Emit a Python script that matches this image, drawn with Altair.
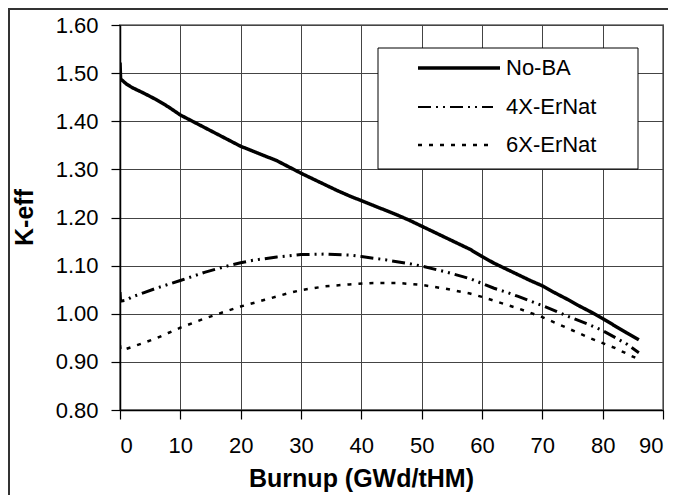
import altair as alt
import pandas as pd

series_names = ["No-BA", "4X-ErNat", "6X-ErNat"]

noba_x = [0, 0.1, 1, 2, 4, 6, 8, 10, 12, 14, 16, 18, 20, 22, 24, 26, 28, 30, 32, 34, 36, 38, 40,
          42, 44, 46, 48, 50, 52, 54, 56, 58, 60, 62, 64, 66, 68, 70, 72, 74, 76, 78, 80, 82, 84, 86]
noba_y = [1.522, 1.488, 1.478, 1.470, 1.458, 1.445, 1.430, 1.413, 1.400, 1.387, 1.374, 1.361, 1.348,
          1.338, 1.328, 1.318, 1.305, 1.292, 1.280, 1.268, 1.256, 1.245, 1.235, 1.225, 1.215, 1.205,
          1.194, 1.182, 1.170, 1.158, 1.146, 1.134, 1.119, 1.105, 1.093, 1.081, 1.069, 1.058, 1.044,
          1.031, 1.017, 1.004, 0.990, 0.975, 0.960, 0.946]

er4_x = [0, 0.1, 1, 2, 4, 6, 8, 10, 14, 18, 20, 22, 26, 30, 34, 38, 40, 44, 48, 50, 54, 58, 60,
         62, 64, 66, 70, 74, 78, 80, 84, 86]
er4_y = [1.045, 1.026, 1.028, 1.035, 1.044, 1.053, 1.061, 1.069, 1.086, 1.100, 1.106, 1.111, 1.118,
         1.123, 1.124, 1.122, 1.119, 1.112, 1.104, 1.099, 1.087, 1.073, 1.063, 1.053, 1.045, 1.036,
         1.017, 0.996, 0.976, 0.965, 0.937, 0.919]

er6_x = [0, 0.1, 1, 2, 4, 6, 8, 10, 14, 18, 20, 24, 28, 30, 34, 38, 42, 46, 50, 54, 58, 60, 64,
         66, 70, 74, 78, 82, 86]
er6_y = [0.935, 0.925, 0.927, 0.931, 0.940, 0.949, 0.960, 0.971, 0.990, 1.007, 1.015, 1.029, 1.043,
         1.049, 1.057, 1.061, 1.064, 1.064, 1.060, 1.052, 1.042, 1.035, 1.019, 1.011, 0.993, 0.971,
         0.949, 0.929, 0.905]

x_ticks = [0, 10, 20, 30, 40, 50, 60, 70, 80, 90]
y_ticks = [0.8, 0.9, 1.0, 1.1, 1.2, 1.3, 1.4, 1.5, 1.6]

dashes = [[1, 0], [13, 5, 2, 5, 2, 5], [4, 7]]
widths = [3.5, 2.5, 2.5]
legend_widths = [3.5, 2.0, 2.5]

rows = []
for name, xs, ys in zip(series_names, [noba_x, er4_x, er6_x], [noba_y, er4_y, er6_y]):
    for i, (a, b) in enumerate(zip(xs, ys)):
        rows.append({"series": name, "burnup": a, "keff": b, "order": i})
df = pd.DataFrame(rows)

FONT = "Liberation Sans"
one = alt.Data(values=[{"k": 1}])

lines = alt.Chart(df).mark_line(color="black", strokeCap="butt", clip=True).encode(
    x=alt.X("burnup:Q", scale=alt.Scale(domain=[0, 90], nice=False),
            axis=alt.Axis(values=x_ticks, format="d", title="Burnup (GWd/tHM)",
                          titleX=241, titleY=68, titleBaseline="middle",
                          labelPadding=16)),
    y=alt.Y("keff:Q", scale=alt.Scale(domain=[0.8, 1.6], nice=False, zero=False),
            axis=alt.Axis(values=y_ticks, format=".2f", title="K-eff",
                          titleX=-83, titleY=192, labelPadding=13)),
    order="order:Q",
    strokeDash=alt.StrokeDash("series:N",
                              scale=alt.Scale(domain=series_names, range=dashes),
                              legend=None),
    strokeWidth=alt.StrokeWidth("series:N",
                                scale=alt.Scale(domain=series_names, range=widths),
                                legend=None),
)

legend_box = alt.Chart(one).mark_rect(fill="white", stroke="black", strokeWidth=1).encode(
    x=alt.value(258), x2=alt.value(518), y=alt.value(23), y2=alt.value(144)
)

legend_layers = []
row_y = [43, 82, 120]
sym_end = [380, 373, 373]
for i, name in enumerate(series_names):
    legend_layers.append(
        alt.Chart(one).mark_rule(color="black", strokeDash=dashes[i],
                                 strokeWidth=legend_widths[i], strokeCap="butt").encode(
            x=alt.value(298), x2=alt.value(sym_end[i]), y=alt.value(row_y[i])
        )
    )
    legend_layers.append(
        alt.Chart(one).mark_text(text=name, font=FONT, fontSize=22, color="black",
                                 align="left", baseline="middle").encode(
            x=alt.value(386), y=alt.value(row_y[i])
        )
    )

frame_top = alt.Chart(one).mark_rule(color="#333333", strokeWidth=2).encode(
    x=alt.value(-112), x2=alt.value(700), y=alt.value(-16)
)
frame_left = alt.Chart(one).mark_rule(color="#333333", strokeWidth=2).encode(
    x=alt.value(-111), y=alt.value(-17), y2=alt.value(600)
)

chart = alt.layer(frame_top, frame_left, legend_box, *legend_layers, lines).properties(
    width=543, height=385,
    autosize=alt.AutoSizeParams(type="none"),
    padding={"left": 112, "top": 17, "right": 5, "bottom": 85},
    background="white",
).configure_view(
    stroke="#8c8c8c", strokeWidth=2
).configure_axis(
    domainColor="black", domainWidth=1.5, tickColor="black", tickSize=9, tickWidth=1.2,
    gridColor="#444444", gridWidth=1, grid=True,
    labelFont=FONT, labelFontSize=22, labelColor="black",
    titleFont=FONT, titleFontSize=25, titleFontWeight="bold", titleColor="black",
)

chart.save("out.html", embed_options={"renderer": "svg", "actions": False})
